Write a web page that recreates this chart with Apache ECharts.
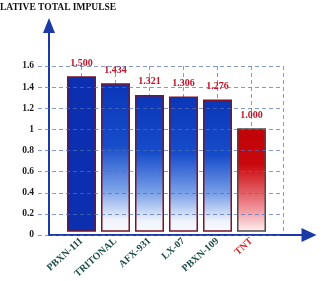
<!DOCTYPE html>
<html><head><meta charset="utf-8">
<script src="https://cdn.jsdelivr.net/npm/echarts@6/dist/echarts.min.js"></script>
<style>html,body{margin:0;padding:0;background:#fff}#c{width:324px;height:281px}</style>
</head><body><div id="c"></div>
<script>
var titleText = 'LATIVE TOTAL IMPULSE';
var categories = ['PBXN-111', 'TRITONAL', 'AFX-931', 'LX-07', 'PBXN-109', 'TNT'];
var values = [1.500, 1.434, 1.321, 1.306, 1.276, 1.000];
var yTicks = {min: 0, max: 1.6, interval: 0.2};

var serif = '"Liberation Serif","DejaVu Serif",serif';
var grid = {color: 'rgba(80,110,185,0.7)', type: [4, 3]};

function barStyle(i) {
  if (categories[i] === 'TNT') {
    return {
      color: {type: 'linear', x: 0, y: 0, x2: 0, y2: 1, colorStops: [
        {offset: 0, color: '#c00408'}, {offset: 0.35, color: '#c8080c'},
        {offset: 0.75, color: '#ee8890'}, {offset: 1, color: '#fdf0f2'}]},
      borderColor: '#4a4a4a', borderWidth: 1.5
    };
  }
  if (i === 0) {
    return {color: '#0b2fae', borderColor: '#7a1426', borderWidth: 1.5};
  }
  return {
    color: {type: 'linear', x: 0, y: 0, x2: 0, y2: 1, colorStops: [
      {offset: 0, color: '#0a36b8'}, {offset: 0.42, color: '#164cca'},
      {offset: 0.72, color: '#7ca2e8'}, {offset: 0.92, color: '#eef3fc'}, {offset: 1, color: '#f8fafe'}]},
    borderColor: '#7a1426', borderWidth: 1.5
  };
}

var barData = values.map(function (v, i) {
  return {value: v, itemStyle: barStyle(i)};
});

var chart = echarts.init(document.getElementById('c'), null, {renderer: 'canvas'});
chart.setOption({
  animation: false,
  backgroundColor: '#ffffff',
  title: {
    text: titleText, left: 0, top: 3, padding: 0,
    textStyle: {fontFamily: serif, fontWeight: 'bold', fontSize: 9.5, color: '#111'}
  },
  grid: [
    {left: 81.5, top: 66, width: 170, height: 169},
    {left: 38, top: 66, width: 245, height: 169},
    {left: 49, top: 25.5, width: 260, height: 209.5}
  ],
  xAxis: [
    {
      type: 'category', gridIndex: 0, data: categories, boundaryGap: false,
      axisLine: {show: false}, axisTick: {show: false},
      axisLabel: {
        rotate: 42, margin: 8, fontFamily: serif, fontWeight: 'bold', fontSize: 10,
        color: function (v) { return v === 'TNT' ? '#d42a2a' : '#1e4d4a'; }
      },
      splitLine: {show: true, lineStyle: grid}
    },
    {
      type: 'value', gridIndex: 1, min: 0, max: 1, interval: 1,
      axisLine: {show: false}, axisTick: {show: false}, axisLabel: {show: false},
      splitLine: {show: true, showMinLine: false, lineStyle: grid}
    },
    {
      type: 'value', gridIndex: 2, min: 0, max: 1,
      axisLine: {show: true, symbol: ['none', 'triangle'], symbolSize: [14, 15],
        lineStyle: {color: '#1a3aa6', width: 2}},
      axisTick: {show: false}, axisLabel: {show: false}, splitLine: {show: false}
    }
  ],
  yAxis: [
    {type: 'value', gridIndex: 0, min: yTicks.min, max: yTicks.max, interval: yTicks.interval, show: false},
    {
      type: 'value', gridIndex: 1, min: yTicks.min, max: yTicks.max, interval: yTicks.interval, z: 3,
      axisLine: {show: false}, axisTick: {show: false},
      axisLabel: {margin: 4, fontFamily: serif, fontWeight: 'bold', fontSize: 9.5, color: '#1a1a1a'},
      splitLine: {show: true, lineStyle: grid}
    },
    {
      type: 'value', gridIndex: 2, min: 0, max: 1,
      axisLine: {show: true, symbol: ['none', 'triangle'], symbolSize: [12, 15],
        lineStyle: {color: '#1a3aa6', width: 2}},
      axisTick: {show: false}, axisLabel: {show: false}, splitLine: {show: false}
    }
  ],
  series: [{
    type: 'bar', xAxisIndex: 0, yAxisIndex: 0, data: barData, barWidth: 29, clip: false,
    label: {
      show: true, position: 'top', distance: 8,
      fontFamily: serif, fontWeight: 'bold', fontSize: 10, color: '#c0142a',
      formatter: function (p) { return p.value.toFixed(3); }
    }
  }]
});
</script></body></html>
